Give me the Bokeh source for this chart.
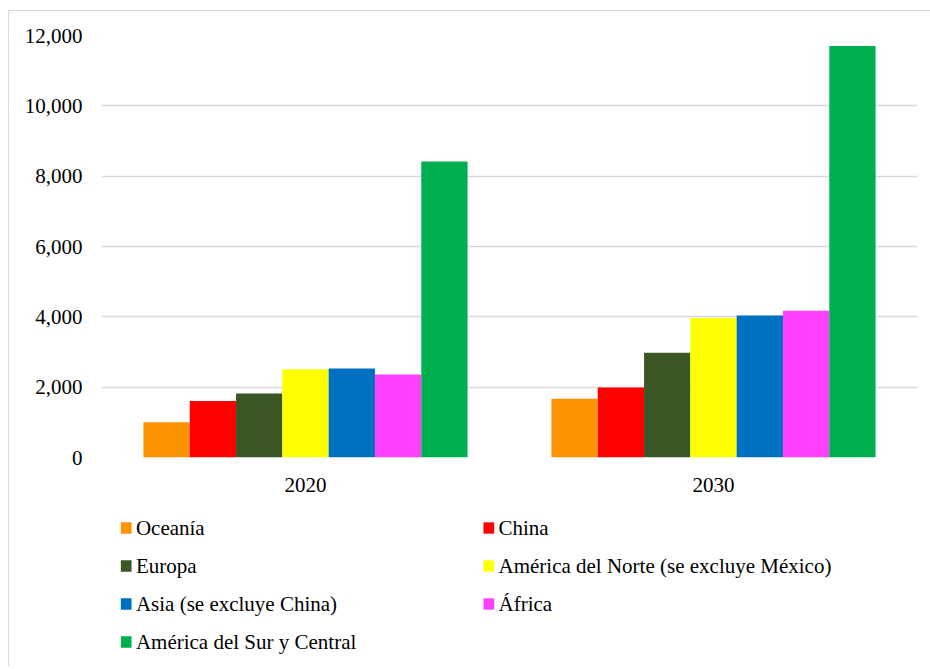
from bokeh.plotting import figure
from bokeh.layouts import column
from bokeh.models import (ColumnDataSource, FactorRange, Range1d, NumeralTickFormatter,
                          SingleIntervalTicker, Label)
from bokeh.transform import dodge
from bokeh.embed import file_html
from bokeh.resources import INLINE

years = ["2020", "2030"]
names = ["Oceanía", "China", "Europa", "América del Norte (se excluye México)",
         "Asia (se excluye China)", "África", "América del Sur y Central"]
oceania = [1000, 1670]
china = [1610, 1990]
europa = [1820, 2980]
norteamerica = [2510, 3970]
asia = [2530, 4040]
africa = [2360, 4170]
sur_central = [8420, 11700]
colors = ["#FF9300", "#FF0000", "#3B5725", "#FFFF00", "#0070C0", "#FF40FF", "#00B050"]

series = [oceania, china, europa, norteamerica, asia, africa, sur_central]
data = {"year": years}
for i, s in enumerate(series):
    data[f"s{i}"] = s
src = ColumnDataSource(data)

FONT = "Liberation Serif"
W = 922

p = figure(x_range=FactorRange(*years, range_padding=0), y_range=Range1d(0, 12000),
           width=W, height=496, output_backend="svg", toolbar_location=None,
           min_border_left=92, min_border_right=14, min_border_top=24, min_border_bottom=50)
p.outline_line_color = None

w = 0.1135
for i in range(len(series)):
    p.vbar(x=dodge("year", (i - 3) * w, range=p.x_range), top=f"s{i}", width=w,
           source=src, fill_color=colors[i], line_color=None)

p.xgrid.grid_line_color = None
p.ygrid.grid_line_color = "#d9d9d9"
p.ygrid.grid_line_width = 1.5

p.yaxis.ticker = SingleIntervalTicker(interval=2000)
p.yaxis.formatter = NumeralTickFormatter(format="0,0")
for ax in (p.xaxis[0], p.yaxis[0]):
    ax.axis_line_color = None
    ax.major_tick_line_color = None
    ax.minor_tick_line_color = None
    ax.major_label_text_font = FONT
    ax.major_label_text_font_size = "21px"
    ax.major_label_text_color = "#000000"
p.yaxis.major_label_standoff = 13
p.xaxis.major_label_standoff = 14

# legend panel: its frame is aligned with the chart frame (page x 100..916), y downward
LH = 159
lg = figure(width=W, height=LH, x_range=Range1d(100, 916), y_range=Range1d(LH, 0),
            output_backend="svg", toolbar_location=None, x_axis_type=None, y_axis_type=None,
            min_border=0)
lg.outline_line_color = None
lg.grid.visible = False
col_x = [124.7, 487.3]
row_y0, row_dy = 20.5, 38
lx = [col_x[i % 2] for i in range(len(names))]
ly = [row_y0 + row_dy * (i // 2) for i in range(len(names))]
lsrc = ColumnDataSource(dict(x=lx, y=ly, name=names, color=colors))
lg.rect(x="x", y="y", width=10.7, height=11.3, fill_color="color", line_color=None, source=lsrc)
for name, x, y in zip(names, lx, ly):
    lg.add_layout(Label(x=x + 9.7, y=y, text=name, text_font=FONT, text_font_size="21px",
                        text_color="#000000", text_baseline="middle", text_align="left"))

layout = column(p, lg, spacing=0, margin=(10, 0, 0, 8),
                styles={"border-left": "1px solid #d9d9d9", "border-top": "1px solid #d9d9d9"})

open("out.html", "w").write(file_html(layout, INLINE))
